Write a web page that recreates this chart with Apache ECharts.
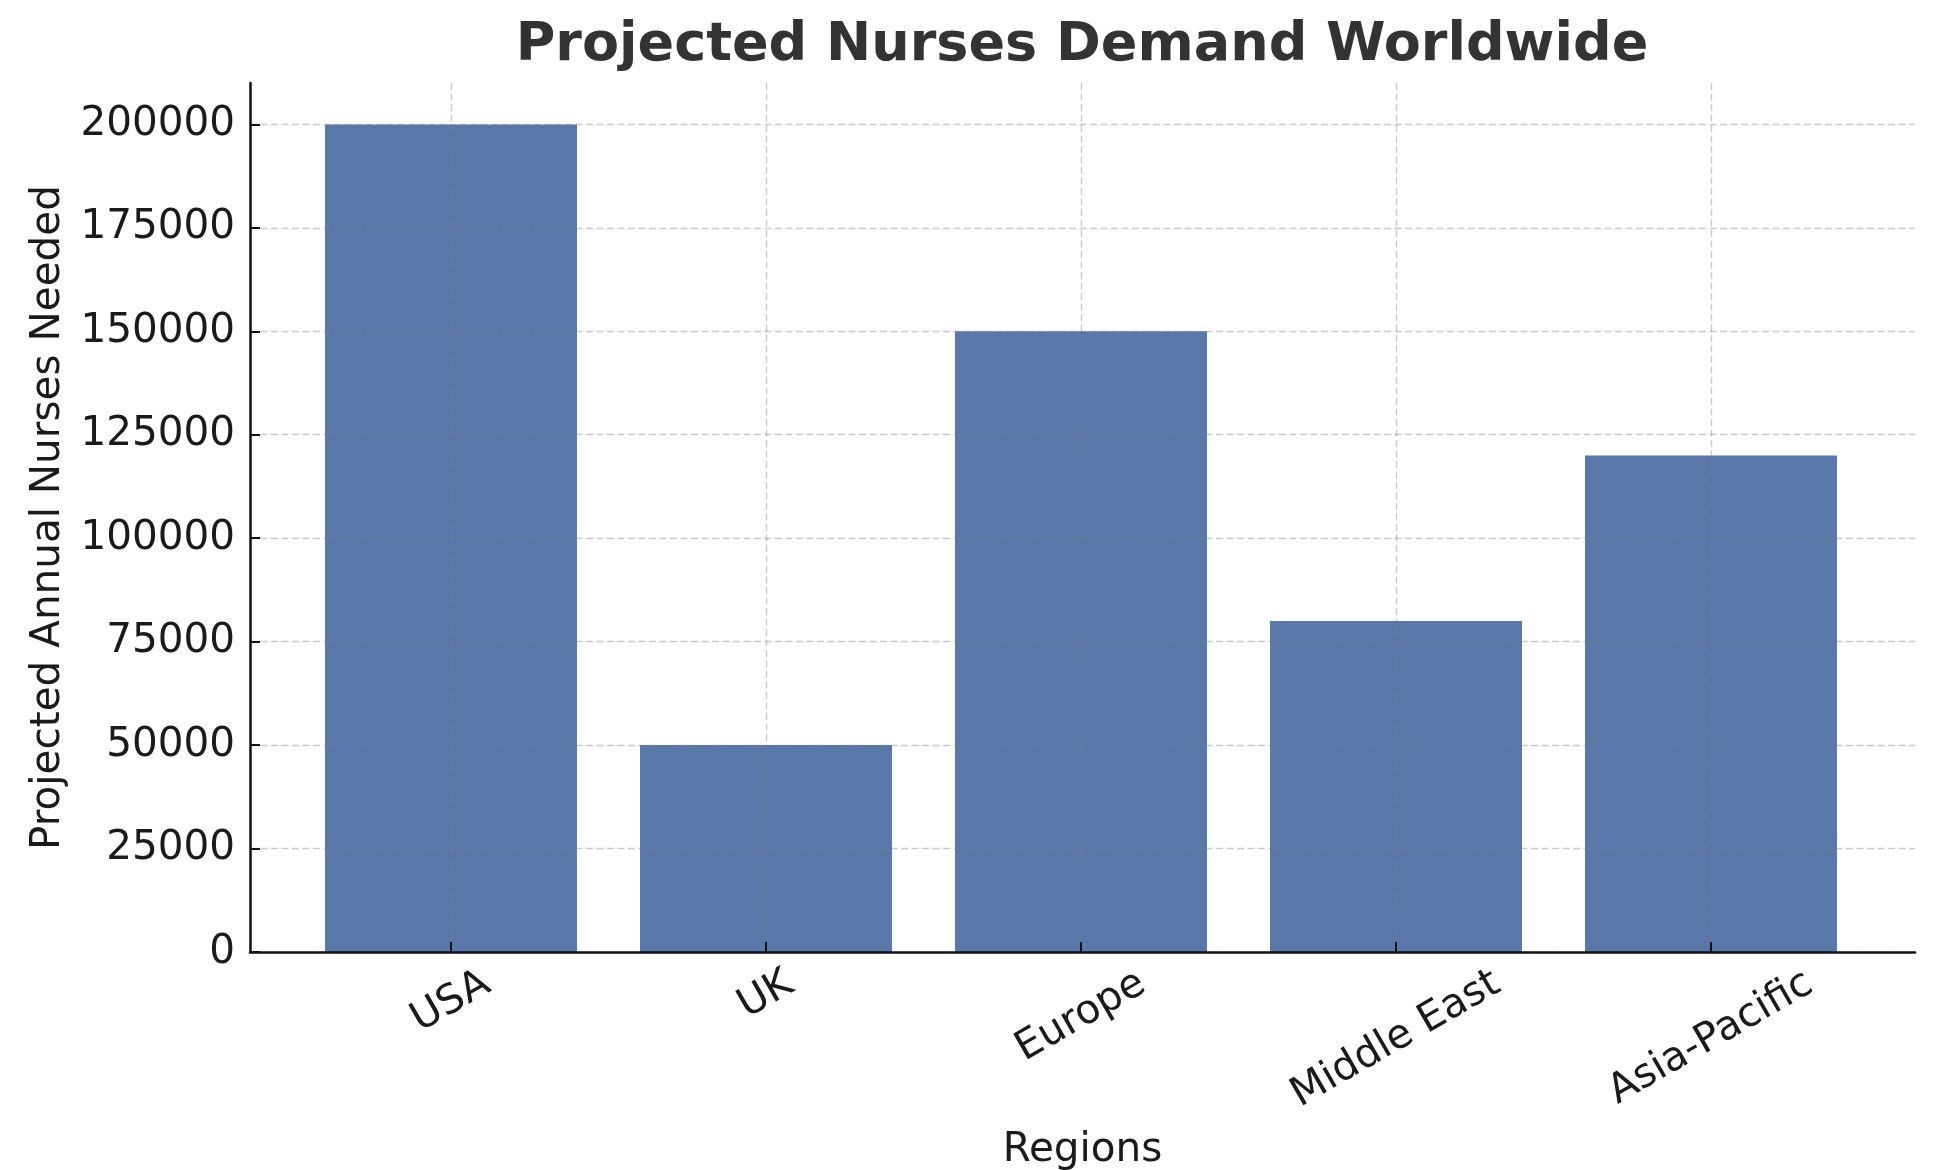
<!DOCTYPE html>
<html>
<head>
<meta charset="utf-8">
<title>Projected Nurses Demand Worldwide</title>
<script src="https://cdn.jsdelivr.net/npm/echarts@6/dist/echarts.min.js"></script>
<style>
html, body { margin: 0; padding: 0; background: #fff; }
#show { width: 1933px; height: 1170px; }
</style>
</head>
<body>
<div id="show"></div>
<script>
var regions = ['USA', 'UK', 'Europe', 'Middle East', 'Asia-Pacific'];
var nursesNeeded = [200000, 50000, 150000, 80000, 120000];
var yTicks = [0, 25000, 50000, 75000, 100000, 125000, 150000, 175000, 200000];
var yMax = 210000;

var titleText = 'Projected Nurses Demand Worldwide';
var font = '"DejaVu Sans", sans-serif';
var ink = '#1a1a1a';
var labelSize = 40.5;
var gridLine = { type: [7, 3.5], color: 'rgba(128,128,128,0.42)', width: 1.4 };

var ctx = document.createElement('canvas').getContext('2d');

// matplotlib centres a rotated label under its tick with the top of its box at a
// fixed gap, so longer names sit lower. Move each text straight down by 29 + w/4:
// right padding slides it back along the baseline, lineHeight pushes it across.
ctx.font = labelSize + 'px "DejaVu Sans"';
var xLabels = regions.map(function (name) {
    var w = ctx.measureText(name).width;
    var pr = 29 + w / 4;
    return {
        value: name,
        textStyle: {
            align: 'center',
            verticalAlign: 'top',
            padding: [0, pr, 0, 0],
            lineHeight: pr * Math.sqrt(3)
        }
    };
});

// title is centred over the plot area, not the page
ctx.font = 'bold 54px "DejaVu Sans"';
var titleLeft = 1082 - ctx.measureText(titleText).width / 2;

var myChart = echarts.init(document.getElementById('show'));
var option = {
    animation: false,
    title: {
        text: titleText,
        left: titleLeft,
        top: 19,
        padding: 0,
        textStyle: { fontSize: 54, fontWeight: 'bold', color: '#333', fontFamily: font }
    },
    grid: [
        { left: 250, right: 18, top: 83, bottom: 218, outerBoundsMode: 'none' },
        { left: 451, right: 222, top: 83, bottom: 218, outerBoundsMode: 'none' }
    ],
    xAxis: [
        {
            gridIndex: 0,
            type: 'value',
            min: 0,
            max: 1,
            z: 3,
            axisLine: { show: true, lineStyle: { color: '#111', width: 2.5 } },
            axisTick: { show: false },
            axisLabel: { show: false },
            splitLine: { show: false },
            name: 'Regions',
            nameLocation: 'middle',
            nameGap: 178,
            nameTextStyle: { fontSize: labelSize, color: ink, fontFamily: font }
        },
        {
            gridIndex: 1,
            type: 'category',
            data: xLabels,
            boundaryGap: false,
            z: 3,
            axisLine: { show: false },
            axisTick: { show: true, inside: true, length: 10, lineStyle: { color: '#111', width: 2 } },
            axisLabel: {
                interval: 0, rotate: 30, margin: 0,
                fontSize: labelSize, color: ink, fontFamily: font
            },
            splitLine: { show: true, lineStyle: gridLine }
        }
    ],
    yAxis: [
        {
            gridIndex: 0,
            type: 'value',
            min: 0,
            max: yMax,
            z: 3,
            axisLine: { show: true, lineStyle: { color: '#111', width: 2.5 } },
            axisTick: { show: true, inside: true, length: 10, customValues: yTicks, lineStyle: { color: '#111', width: 2 } },
            axisLabel: {
                customValues: yTicks, margin: 15, fontSize: labelSize, color: ink, fontFamily: font,
                formatter: function (v) { return String(v); }
            },
            splitLine: { show: true, lineStyle: gridLine },
            name: 'Projected Annual Nurses Needed',
            nameLocation: 'middle',
            nameGap: 181,
            nameTextStyle: { fontSize: labelSize, color: ink, fontFamily: font }
        },
        { gridIndex: 1, type: 'value', min: 0, max: yMax, show: false }
    ],
    series: [
        {
            name: 'Nurses',
            type: 'bar',
            xAxisIndex: 1,
            yAxisIndex: 1,
            data: nursesNeeded,
            barWidth: 252,
            clip: false,
            itemStyle: { color: '#5977a8' }
        }
    ]
};
myChart.setOption(option);
</script>
</body>
</html>
